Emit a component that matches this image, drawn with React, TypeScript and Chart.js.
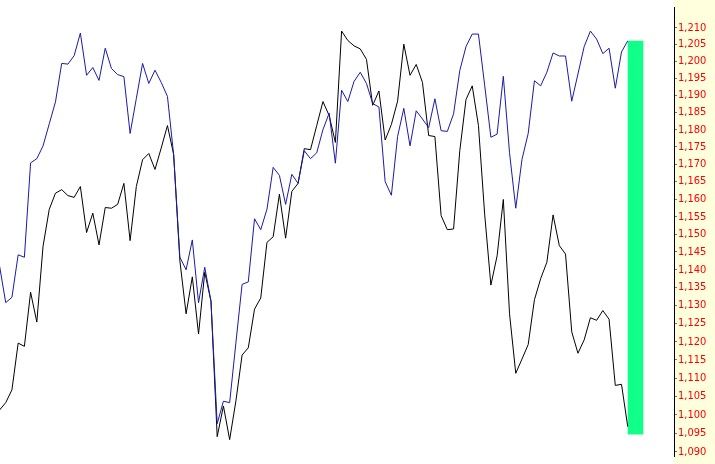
import React, { useEffect, useRef } from "react";
import { Chart, registerables } from "chart.js";

Chart.register(...registerables);

const blueValues: number[] = [
  1141.1, 1130.8, 1132.3, 1144.2, 1143.5, 1170.4, 1171.6, 1175.3, 1181.7, 1188.1,
  1199.4, 1199.2, 1201.7, 1208.4, 1195.9, 1198.2, 1194.4, 1203.9, 1197.9, 1196.1,
  1195.5, 1178.9, 1189.1, 1199.4, 1193.5, 1197.4, 1193.8, 1189.7, 1172.7, 1143.5,
  1140.0, 1148.4, 1130.8, 1140.7, 1131.2, 1097.6, 1103.7, 1103.3, 1119.6, 1135.9,
  1136.6, 1154.4, 1151.3, 1157.1, 1169.1, 1166.8, 1158.5, 1167.1, 1164.5, 1173.9,
  1171.6, 1173.3, 1180.0, 1184.8, 1170.3, 1191.5, 1188.2, 1194.1, 1196.8, 1193.5,
  1187.6, 1186.6, 1165.0, 1161.1, 1178.0, 1186.2, 1175.3, 1185.5, 1183.1, 1180.6,
  1189.0, 1179.7, 1179.5, 1184.6, 1197.3, 1204.4, 1208.1, 1208.1, 1193.0, 1177.8,
  1178.7, 1195.6, 1173.3, 1157.4, 1171.4, 1178.9, 1194.3, 1192.8, 1196.8, 1202.5,
  1201.6, 1201.6, 1188.3, 1196.3, 1204.4, 1209.0, 1206.6, 1202.3, 1203.9, 1192.1,
  1202.8, 1206.1,
];

const blackValues: number[] = [
  1101.3, 1103.3, 1106.8, 1119.6, 1118.7, 1133.7, 1125.4, 1146.6, 1157.1, 1161.7,
  1162.7, 1161.0, 1160.5, 1163.6, 1150.5, 1156.0, 1147.0, 1157.6, 1157.4, 1158.5,
  1164.5, 1148.2, 1163.6, 1171.3, 1173.1, 1168.5, 1174.7, 1181.2, 1172.8, 1142.5,
  1127.7, 1138.0, 1122.1, 1139.3, 1131.2, 1094.1, 1102.4, 1093.3, 1103.7, 1116.3,
  1118.3, 1129.0, 1132.1, 1147.7, 1149.3, 1161.4, 1148.9, 1162.2, 1164.5, 1174.5,
  1174.2, 1181.2, 1188.2, 1184.1, 1176.3, 1209.0, 1206.2, 1204.6, 1203.7, 1200.6,
  1187.1, 1191.3, 1177.0, 1181.5, 1188.3, 1205.1, 1195.9, 1199.1, 1193.8, 1178.3,
  1178.0, 1155.3, 1151.3, 1151.5, 1173.9, 1188.8, 1192.8, 1181.2, 1155.7, 1135.7,
  1143.9, 1159.9, 1127.7, 1111.3, 1115.2, 1119.2, 1131.6, 1137.5, 1142.1, 1155.5,
  1146.8, 1144.4, 1122.7, 1116.8, 1120.5, 1126.6, 1125.9, 1128.6, 1126.2, 1108.0,
  1108.3, 1096.8,
];

// floating bar (low, high) placed just after the last point
const barPosition = 102.25;
const barRange: [number, number] = [1094.8, 1206.0];

const tickValues: number[] = [
  1090, 1095, 1100, 1105, 1110, 1115, 1120, 1125, 1130, 1135, 1140, 1145, 1150,
  1155, 1160, 1165, 1170, 1175, 1180, 1185, 1190, 1195, 1200, 1205, 1210,
];

const yMin = 1088.8;
const yMax = 1216;
const xMin = 0.08;
const xMax = 108.44;

const axisBg = {
  id: "axisBg",
  beforeDraw(chart: any) {
    const { ctx, chartArea, width, height } = chart;
    ctx.save();
    ctx.fillStyle = "#ffffde";
    ctx.fillRect(chartArea.right, 0, width - chartArea.right, height);
    ctx.restore();
  },
};

export default function App() {
  const ref = useRef<HTMLCanvasElement | null>(null);

  useEffect(() => {
    document.body.style.margin = "0";
    const canvas = ref.current;
    if (!canvas) return;
    const chart = new Chart(canvas, {
      type: "line",
      data: {
        datasets: [
          {
            type: "line",
            data: blueValues.map((v, i) => ({ x: i, y: v })),
            borderColor: "#1a1aa8",
            borderWidth: 1,
            pointRadius: 0,
            tension: 0,
          },
          {
            type: "line",
            data: blackValues.map((v, i) => ({ x: i, y: v })),
            borderColor: "#000000",
            borderWidth: 1,
            pointRadius: 0,
            tension: 0,
          },
          {
            type: "bar",
            data: [{ x: barPosition, y: barRange }] as any,
            backgroundColor: "#10ff88",
            borderWidth: 0,
            barThickness: 15,
          } as any,
        ],
      },
      plugins: [axisBg],
      options: {
        animation: false,
        responsive: false,
        maintainAspectRatio: false,
        layout: { padding: 0 },
        plugins: {
          legend: { display: false },
          tooltip: { enabled: false },
        },
        scales: {
          x: {
            type: "linear",
            min: xMin,
            max: xMax,
            offset: false,
            display: false,
          },
          y: {
            type: "logarithmic",
            position: "right",
            min: yMin,
            max: yMax,
            afterBuildTicks: (scale: any) => {
              scale.ticks = tickValues.map((v) => ({ value: v }));
            },
            afterFit: (scale: any) => {
              scale.width = 41;
            },
            border: { display: true, color: "#000000", width: 1 },
            grid: {
              drawOnChartArea: false,
              drawTicks: true,
              tickLength: 3,
              tickColor: "#777777",
            },
            ticks: {
              autoSkip: false,
              padding: 1,
              color: "#ff0000",
              font: { family: "'DejaVu Sans Condensed', 'DejaVu Sans', sans-serif", size: 11 },
              callback: (v: any) => Number(v).toLocaleString("en-US"),
            },
          },
        },
      } as any,
    });
    return () => chart.destroy();
  }, []);

  return (
    <div style={{ position: "absolute", left: 0, top: 0, width: 715, height: 464 }}>
      <canvas ref={ref} width={715} height={464} style={{ display: "block", width: 715, height: 464 }} />
    </div>
  );
}
